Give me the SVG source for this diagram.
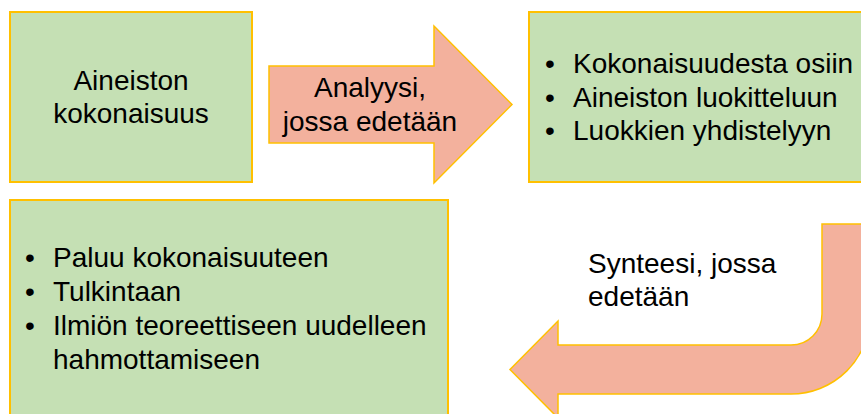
<svg xmlns="http://www.w3.org/2000/svg" width="861" height="414" viewBox="0 0 861 414">
<style>
.box{fill:#C5E0B4;stroke:#FFC000;stroke-width:2}
.arrow{fill:#F3B19D;stroke:#FFC000;stroke-width:1.5;stroke-linejoin:miter}
text{font-family:"Liberation Sans",Arial,sans-serif;font-size:28px;fill:#000}
.c{text-anchor:middle}
</style>
<rect width="861" height="414" fill="#fff"/>
<g id="node-kokonaisuus">
<rect class="box" x="10" y="12" width="242" height="170"/>
<text class="c" x="131" y="90">Aineiston</text>
<text class="c" x="131" y="123">kokonaisuus</text>
</g>
<g id="node-analyysi-list">
<rect class="box" x="529" y="12" width="345" height="170"/>
<text x="545" y="73">•</text><text x="573" y="73">Kokonaisuudesta osiin</text>
<text x="545" y="107">•</text><text x="573" y="107">Aineiston luokitteluun</text>
<text x="545" y="140">•</text><text x="573" y="140">Luokkien yhdistelyyn</text>
</g>
<g id="node-synteesi-list">
<rect class="box" x="10" y="200" width="438" height="230"/>
<text x="25" y="267">•</text><text x="53" y="267">Paluu kokonaisuuteen</text>
<text x="25" y="301">•</text><text x="53" y="301">Tulkintaan</text>
<text x="25" y="335">•</text><text x="53" y="335">Ilmiön teoreettiseen uudelleen</text>
<text x="53" y="369">hahmottamiseen</text>
</g>
<g id="connectors">
<g id="arrow-analyysi">
<path class="arrow" d="M269 66 L434 66 L434 26 L512 104.5 L434 183 L434 143 L269 143 Z"/>
<text class="c" x="370" y="97">Analyysi,</text>
<text class="c" x="370" y="131">jossa edetään</text>
</g>
<g id="arrow-synteesi">
<path class="arrow" d="M822 224 L822 314 A31 31 0 0 1 791 345 L558 345 L558 321 L510 369.5 L558 418 L558 394 L791 394 A79 79 0 0 0 870 315 L870 224 Z"/>
<text x="588" y="273">Synteesi, jossa</text>
<text x="588" y="306">edetään</text>
</g>
</g>
</svg>
